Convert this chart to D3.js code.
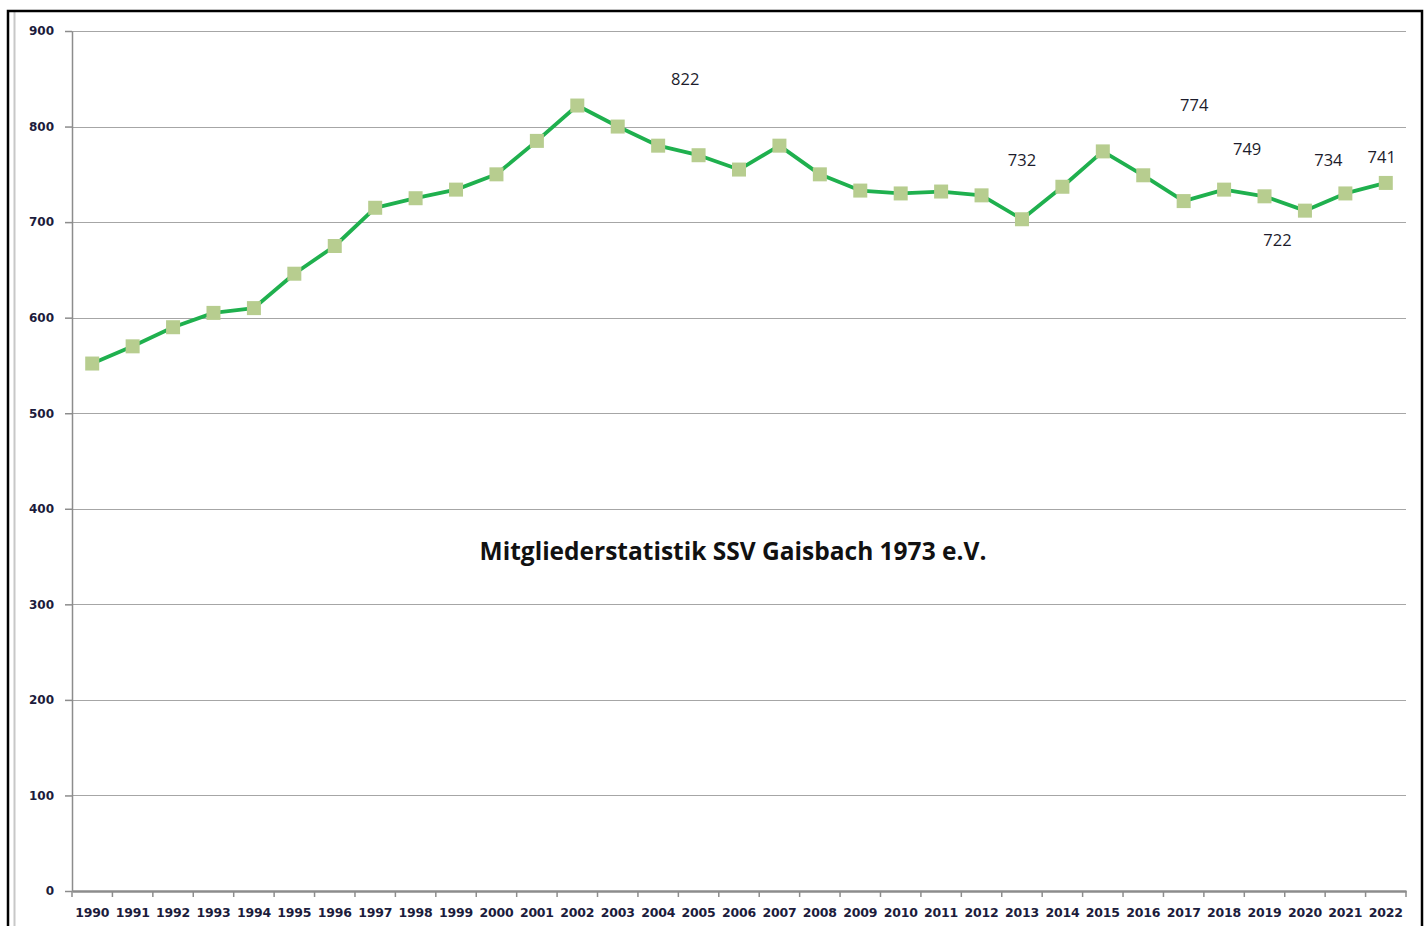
<!DOCTYPE html>
<html>
<head>
<meta charset="utf-8">
<script src="https://cdn.jsdelivr.net/npm/d3@7/dist/d3.min.js"></script>
<style>
html,body{margin:0;padding:0;background:#fff;}
svg{display:block;}
</style>
</head>
<body>
<svg id="chart" width="1428" height="926"></svg>
<script>
const years = [1990,1991,1992,1993,1994,1995,1996,1997,1998,1999,2000,2001,2002,2003,2004,2005,2006,2007,2008,2009,2010,2011,2012,2013,2014,2015,2016,2017,2018,2019,2020,2021,2022];
const members = [552,570,590,605,610,646,675,715,725,734,750,785,822,800,780,770,755,780,750,733,730,732,728,703,737,774,749,722,734,727,712,730,741];
const yTicks = [0,100,200,300,400,500,600,700,800,900];
// data labels as displayed (text, anchor in year units, anchor in value units)
const labelTexts = ["822","732","774","749","722","734","741"];
const labelYearPos = [2004.67,2013.0,2017.26,2018.57,2019.32,2020.58,2021.9];
const labelValuePos = [850,766,823.5,777.5,682,766,768.5];
const title = "Mitgliederstatistik SSV Gaisbach 1973 e.V.";

const svg = d3.select("#chart");
const W = 1428, H = 926;
const mLeft = 72, mRight = 1406, mTop = 31, mBottom = 891;

// frame
svg.append("line").attr("x1",14.5).attr("x2",14.5).attr("y1",12).attr("y2",H).attr("stroke","#c8c8c8").attr("stroke-width",2);
svg.append("rect").attr("x",8).attr("y",11).attr("width",1414).attr("height",H+10)
  .attr("fill","none").attr("stroke","#000").attr("stroke-width",2.5);

const x = d3.scaleBand().domain(years).range([mLeft,mRight]).padding(0);
const y = d3.scaleLinear().domain([0,900]).range([mBottom,mTop]);
const xc = v => mLeft + (v - years[0]) * x.step() + x.bandwidth()/2;

// gridlines
svg.append("g").selectAll("line").data(yTicks.filter(d=>d>0)).join("line")
  .attr("x1",mLeft).attr("x2",mRight)
  .attr("y1",d=>Math.round(y(d))+0.5).attr("y2",d=>Math.round(y(d))+0.5)
  .attr("stroke","#a6a6a6").attr("stroke-width",1.2);

// y axis
const yAxis = svg.append("g").attr("transform",`translate(${mLeft},0)`)
  .call(d3.axisLeft(y).tickValues(yTicks).tickSize(7).tickPadding(11).tickSizeOuter(0));
yAxis.select(".domain").attr("stroke","#8c8c8c").attr("stroke-width",1.5);
yAxis.selectAll(".tick line").attr("stroke","#8c8c8c").attr("stroke-width",1.5);
yAxis.selectAll(".tick text").attr("font-family","'DejaVu Sans',sans-serif").attr("font-weight","bold")
  .attr("font-size","12px").attr("fill","#1c1c3c");

// x axis
const xAxis = svg.append("g").attr("transform",`translate(0,${mBottom})`)
  .call(d3.axisBottom(x).tickSize(0).tickPadding(17).tickSizeOuter(0));
xAxis.select(".domain").attr("stroke","#8c8c8c").attr("stroke-width",2.5);
xAxis.selectAll(".tick text").attr("font-family","'DejaVu Sans',sans-serif").attr("font-weight","bold")
  .attr("font-size","12.5px").attr("fill","#1c1c3c").attr("letter-spacing","-0.2px");
// category boundary ticks
const bounds = years.map((d,i)=> mLeft + i*x.step()).concat([mRight]);
svg.append("g").selectAll("line").data(bounds).join("line")
  .attr("x1",d=>d).attr("x2",d=>d).attr("y1",mBottom).attr("y2",mBottom+6)
  .attr("stroke","#8c8c8c").attr("stroke-width",1.5);

// line
const line = d3.line().x((d,i)=>x(years[i])+x.bandwidth()/2).y(d=>y(d));
svg.append("path").datum(members).attr("d",line)
  .attr("fill","none").attr("stroke","#1fb04e").attr("stroke-width",3.8).attr("stroke-linejoin","round");

// markers
const ms = 14;
svg.append("g").selectAll("rect").data(members).join("rect")
  .attr("x",(d,i)=>x(years[i])+x.bandwidth()/2-ms/2)
  .attr("y",d=>y(d)-ms/2)
  .attr("width",ms).attr("height",ms)
  .attr("fill","#b7cd8f");

// data labels
svg.append("g").selectAll("text").data(labelTexts).join("text")
  .attr("x",(d,i)=>xc(labelYearPos[i]))
  .attr("y",(d,i)=>y(labelValuePos[i]))
  .attr("text-anchor","middle").attr("dominant-baseline","central")
  .attr("font-family","'Open Sans',sans-serif").attr("font-size","16.5px").attr("fill","#1c1c2c")
  .text(d=>d);

// title
svg.append("text").attr("x",733).attr("y",550).attr("text-anchor","middle").attr("dominant-baseline","central")
  .attr("font-family","'Open Sans',sans-serif").attr("font-weight","bold").attr("font-size","24.5px")
  .attr("fill","#111").text(title);
</script>
</body>
</html>
